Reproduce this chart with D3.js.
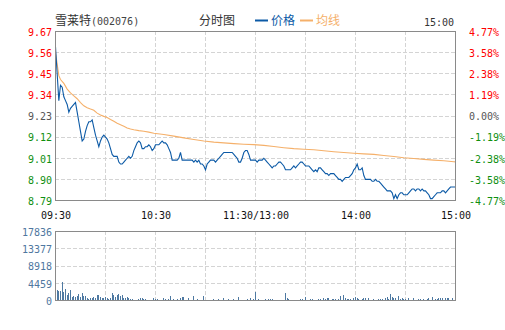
<!DOCTYPE html>
<html>
<head>
<meta charset="utf-8">
<script src="https://cdn.jsdelivr.net/npm/d3@7"></script>
<style>
  body { margin: 0; background: #fff; }
  svg { display: block; }
  text { font-family: "DejaVu Sans Mono", monospace; font-size: 10px; }
  .cjk { font-family: "Noto Sans CJK SC", sans-serif; font-size: 12px; }
</style>
</head>
<body>
<svg id="chart" width="505" height="330"></svg>
<script>
// Intraday minute chart: 雪莱特 (002076)
const stockName = "雪莱特";
const stockCode = "(002076)";
const chartTitle = "分时图";
const legendNames = ["价格", "均线"];
const closeTime = "15:00";
const preClose = 9.23;

const priceTicks = [9.67, 9.56, 9.45, 9.34, 9.23, 9.12, 9.01, 8.90, 8.79];
const priceTickLabels = ["9.67", "9.56", "9.45", "9.34", "9.23", "9.12", "9.01", "8.90", "8.79"];
const pctTickLabels = ["4.77%", "3.58%", "2.38%", "1.19%", "0.00%", "-1.19%", "-2.38%", "-3.58%", "-4.77%"];
const timeTickMinutes = [0, 60, 120, 180, 240];
const timeTickLabels = ["09:30", "10:30", "11:30/13:00", "14:00", "15:00"];
const volumeTicks = [0, 4459, 8918, 13377, 17836];
const volumeTickLabels = ["0", "4459", "8918", "13377", "17836"];

// Last price per trading minute (0 = 09:30, 120 = 11:30/13:00, 240 = 15:00)
const prices = [
  9.59, 9.45, 9.31, 9.39, 9.38, 9.33, 9.31, 9.29, 9.25, 9.27,
  9.28, 9.29, 9.30, 9.25, 9.20, 9.15, 9.10, 9.11, 9.15, 9.18,
  9.20, 9.20, 9.21, 9.17, 9.13, 9.10, 9.07, 9.10, 9.12, 9.13,
  9.12, 9.11, 9.09, 9.06, 9.03, 9.02, 9.02, 9.02, 8.99, 8.98,
  8.98, 8.99, 9.00, 9.01, 9.02, 9.01, 9.02, 9.05, 9.07, 9.09,
  9.10, 9.09, 9.06, 9.06, 9.07, 9.07, 9.08, 9.07, 9.05, 9.06,
  9.08, 9.08, 9.08, 9.09, 9.10, 9.09, 9.09, 9.08, 9.06, 9.04,
  9.00, 9.00, 9.00, 9.00, 9.01, 9.04, 9.00, 9.00, 9.00, 9.00,
  9.00, 9.00, 9.00, 8.99, 9.00, 8.99, 9.00, 8.98, 8.98, 8.97,
  8.95, 8.98, 8.99, 9.00, 9.00, 9.00, 8.99, 9.00, 9.01, 9.02,
  9.03, 9.04, 9.04, 9.04, 9.04, 9.04, 9.04, 9.03, 9.02, 9.01,
  8.99, 8.99, 9.01, 9.04, 9.05, 9.05, 9.03, 9.00, 9.00, 9.00,
  9.00,
  8.99, 9.00, 9.00, 9.00, 9.01, 9.00, 8.99, 8.98, 8.97,
  8.96, 8.97, 8.97, 8.98, 8.99, 8.99, 8.98, 8.97, 8.95, 8.95,
  8.95, 8.95, 8.96, 8.97, 8.96, 8.97, 8.98, 8.99, 8.99, 8.98,
  8.97, 8.97, 8.97, 8.96, 8.95, 8.94, 8.95, 8.94, 8.96, 8.96,
  8.95, 8.94, 8.93, 8.93, 8.92, 8.93, 8.93, 8.93, 8.92, 8.91,
  8.90, 8.90, 8.89, 8.90, 8.91, 8.91, 8.91, 8.92, 8.93, 8.95,
  8.96, 8.98, 8.95, 8.95, 8.96, 8.92, 8.90, 8.90, 8.90, 8.90,
  8.89, 8.89, 8.90, 8.89, 8.89, 8.88, 8.87, 8.86, 8.85, 8.84,
  8.84, 8.84, 8.83, 8.80, 8.82, 8.80, 8.82, 8.83, 8.83, 8.82,
  8.82, 8.82, 8.83, 8.84, 8.85, 8.85, 8.84, 8.85, 8.85, 8.84,
  8.85, 8.84, 8.84, 8.83, 8.82, 8.80, 8.80, 8.81, 8.82, 8.83,
  8.83, 8.83, 8.84, 8.84, 8.83, 8.84, 8.85, 8.86, 8.86, 8.86, 8.86
];

// Average price line, sampled at the listed minutes
const avgMinutes = [0, 1, 2, 3, 5, 7, 9, 11, 13, 15, 17, 19, 21, 23, 25, 27, 29, 31, 33, 35,
  37, 39, 41, 43, 45, 47, 50, 53, 56, 59, 65, 71, 77, 83, 89, 95, 101, 107, 113, 119,
  125, 131, 137, 143, 149, 155, 161, 167, 173, 179, 185, 191, 197, 203, 209, 215, 221, 227, 233, 239, 240];
const avgPrices = [9.560, 9.500, 9.440, 9.420, 9.400, 9.370, 9.350, 9.335, 9.320, 9.300,
  9.283, 9.273, 9.266, 9.260, 9.245, 9.235, 9.228, 9.222, 9.212, 9.203,
  9.192, 9.185, 9.177, 9.168, 9.162, 9.158, 9.154, 9.151, 9.146, 9.140,
  9.134, 9.125, 9.116, 9.108, 9.100, 9.094, 9.090, 9.086, 9.083, 9.081,
  9.077, 9.071, 9.065, 9.060, 9.057, 9.054, 9.049, 9.044, 9.040, 9.036,
  9.033, 9.030, 9.024, 9.019, 9.013, 9.009, 9.004, 9.000, 8.997, 8.992, 8.991];

// Volume per trading minute (lots)
const volumes = [
  3300, 2600, 2500, 2500, 4800, 2200, 2900, 1400, 2000, 2700,
  950, 1200, 860, 1100, 1650, 950, 2000, 1200, 1100, 600,
  430, 600, 600, 860, 520, 1400, 1400, 860, 690, 690,
  860, 690, 300, 600, 1900, 1550, 950, 1400, 1650, 1100,
  1400, 600, 600, 860, 520, 430, 430, 200, 120, 250,
  430, 600, 690, 350, 430, 200, 150, 100, 200, 600,
  350, 350, 150, 200, 100, 690, 430, 200, 300, 1050,
  200, 350, 150, 350, 200, 520, 860, 860, 150, 200,
  600, 150, 200, 1050, 150, 430, 200, 150, 100, 1050,
  150, 100, 150, 200, 100, 350, 150, 200, 350, 150,
  100, 520, 150, 200, 350, 150, 100, 430, 150, 200,
  860, 150, 100, 200, 150, 350, 100, 520, 150, 350,
  2150,
  150, 350, 100, 150, 100, 350, 150, 350, 350,
  350, 100, 150, 100, 100, 150, 100, 150, 1900, 690,
  430, 100, 150, 100, 150, 100, 150, 350, 350, 100,
  860, 150, 100, 350, 350, 150, 100, 150, 350, 350,
  150, 600, 430, 600, 600, 150, 430, 430, 430, 150,
  430, 1100, 150, 1400, 520, 430, 430, 430, 150, 600,
  860, 600, 430, 150, 430, 600, 600, 150, 600, 150,
  150, 350, 150, 150, 350, 350, 430, 150, 600, 860,
  430, 1650, 860, 600, 600, 150, 1200, 430, 600, 350,
  430, 150, 600, 150, 150, 600, 150, 150, 350, 350,
  150, 430, 150, 430, 600, 150, 860, 150, 430, 430,
  600, 600, 600, 150, 690, 690, 690, 150, 690, 150, 300
];

const colors = {
  price: "#0c5aa6",
  avg: "#f5b06a",
  up: "#ff0000",
  down: "#0f8f0f",
  flat: "#555555",
  grid: "#d4d4d4",
  frame: "#8a8a8a",
  volume: "#4e79a2",
  volumeText: "#4f77a0",
  text: "#333333"
};

const svg = d3.select("#chart");

const left = 55, right = 455;
const priceTop = 31, priceBottom = 200;
const volTop = 231, volBottom = 300;

const x = d3.scaleLinear().domain([0, 240]).range([left + 0.5, right + 0.5]);
const y = d3.scaleLinear().domain([8.79, 9.67]).range([priceBottom + 0.5, priceTop + 0.5]);
const yv = d3.scaleLinear().domain([0, 17836]).range([volBottom + 0.5, volTop + 0.5]);

const gridMinutes = d3.range(30, 240, 30);

// ---- header ----
svg.append("text").attr("class", "cjk").attr("x", 55).attr("y", 25)
  .attr("fill", colors.text).text(stockName);
svg.append("text").attr("x", 91).attr("y", 25)
  .attr("fill", "#444").text(stockCode);
svg.append("text").attr("class", "cjk").attr("x", 199).attr("y", 25)
  .attr("fill", colors.text).text(chartTitle);

const legend = svg.append("g");
[[colors.price, 255, 271], [colors.avg, 300, 316]].forEach(([c, lx, tx], i) => {
  legend.append("line").attr("x1", lx).attr("x2", lx + 13).attr("y1", 20.5).attr("y2", 20.5)
    .attr("stroke", c).attr("stroke-width", 2);
  legend.append("text").attr("class", "cjk").attr("x", tx).attr("y", 25)
    .attr("fill", c).text(legendNames[i]);
});
svg.append("text").attr("x", 454).attr("y", 26).attr("text-anchor", "end")
  .attr("fill", colors.text).text(closeTime);

// ---- price panel ----
const grid = svg.append("g").attr("stroke", colors.grid).attr("stroke-dasharray", "4,2")
  .attr("shape-rendering", "crispEdges");
priceTicks.slice(1, -1).forEach(p => {
  grid.append("line").attr("x1", left).attr("x2", right).attr("y1", y(p)).attr("y2", y(p));
});
gridMinutes.forEach(m => {
  grid.append("line").attr("x1", x(m)).attr("x2", x(m)).attr("y1", priceTop).attr("y2", priceBottom);
});

const tickColor = p => Math.abs(p - preClose) < 1e-6 ? colors.flat : (p > preClose ? colors.up : colors.down);
const leftAxis = d3.axisLeft(y).tickValues(priceTicks).tickSize(0).tickPadding(3)
  .tickFormat((d, i) => priceTickLabels[i]);
const gl = svg.append("g").attr("transform", `translate(${left},0)`).call(leftAxis);
gl.select(".domain").remove();
gl.selectAll("text").attr("font-family", null).attr("font-size", null)
  .attr("fill", d => tickColor(d)).attr("dy", "0.38em");

const rightAxis = d3.axisRight(y).tickValues(priceTicks).tickSize(0).tickPadding(14)
  .tickFormat((d, i) => pctTickLabels[i]);
const gr = svg.append("g").attr("transform", `translate(${right},0)`).call(rightAxis);
gr.select(".domain").remove();
gr.selectAll("text").attr("font-family", null).attr("font-size", null)
  .attr("fill", d => tickColor(d)).attr("dy", "0.38em");

const avgLine = d3.line().x((d, i) => x(avgMinutes[i])).y(d => y(d));
svg.append("path").datum(avgPrices).attr("d", avgLine)
  .attr("fill", "none").attr("stroke", colors.avg).attr("stroke-width", 1.1);

const priceLine = d3.line().x((d, i) => x(i)).y(d => y(d));
svg.append("path").datum(prices).attr("d", priceLine)
  .attr("fill", "none").attr("stroke", colors.price).attr("stroke-width", 1.1);

svg.append("rect").attr("x", left + 0.5).attr("y", priceTop + 0.5)
  .attr("width", right - left).attr("height", priceBottom - priceTop)
  .attr("fill", "none").attr("stroke", colors.frame);

// ---- time axis ----
const timeAxis = d3.axisBottom(x).tickValues(timeTickMinutes).tickSize(0).tickPadding(0)
  .tickFormat((d, i) => timeTickLabels[i]);
const gt = svg.append("g").attr("transform", `translate(0,${priceBottom + 12})`).call(timeAxis);
gt.select(".domain").remove();
gt.selectAll("text").attr("font-family", null).attr("font-size", null)
  .attr("fill", "#111").attr("dy", "0.71em");

// ---- volume panel ----
const vgrid = svg.append("g").attr("stroke", colors.grid).attr("stroke-dasharray", "4,2")
  .attr("shape-rendering", "crispEdges");
volumeTicks.slice(1, -1).forEach(v => {
  vgrid.append("line").attr("x1", left).attr("x2", right).attr("y1", yv(v)).attr("y2", yv(v));
});
gridMinutes.forEach(m => {
  vgrid.append("line").attr("x1", x(m)).attr("x2", x(m)).attr("y1", volTop).attr("y2", volBottom);
});

svg.append("g").attr("shape-rendering", "crispEdges").selectAll("rect")
  .data(volumes).join("rect")
  .attr("x", (d, i) => Math.round(x(i) - 0.5))
  .attr("width", 1)
  .attr("y", d => yv(d))
  .attr("height", d => yv(0) - yv(d))
  .attr("fill", colors.volume);

const volAxis = d3.axisLeft(yv).tickValues(volumeTicks).tickSize(0).tickPadding(3)
  .tickFormat((d, i) => volumeTickLabels[i]);
const gv = svg.append("g").attr("transform", `translate(${left},0)`).call(volAxis);
gv.select(".domain").remove();
gv.selectAll("text").attr("font-family", null).attr("font-size", null)
  .attr("fill", colors.volumeText).attr("dy", "0.38em");

svg.append("rect").attr("x", left + 0.5).attr("y", volTop + 0.5)
  .attr("width", right - left).attr("height", volBottom - volTop)
  .attr("fill", "none").attr("stroke", colors.frame);
</script>
</body>
</html>
